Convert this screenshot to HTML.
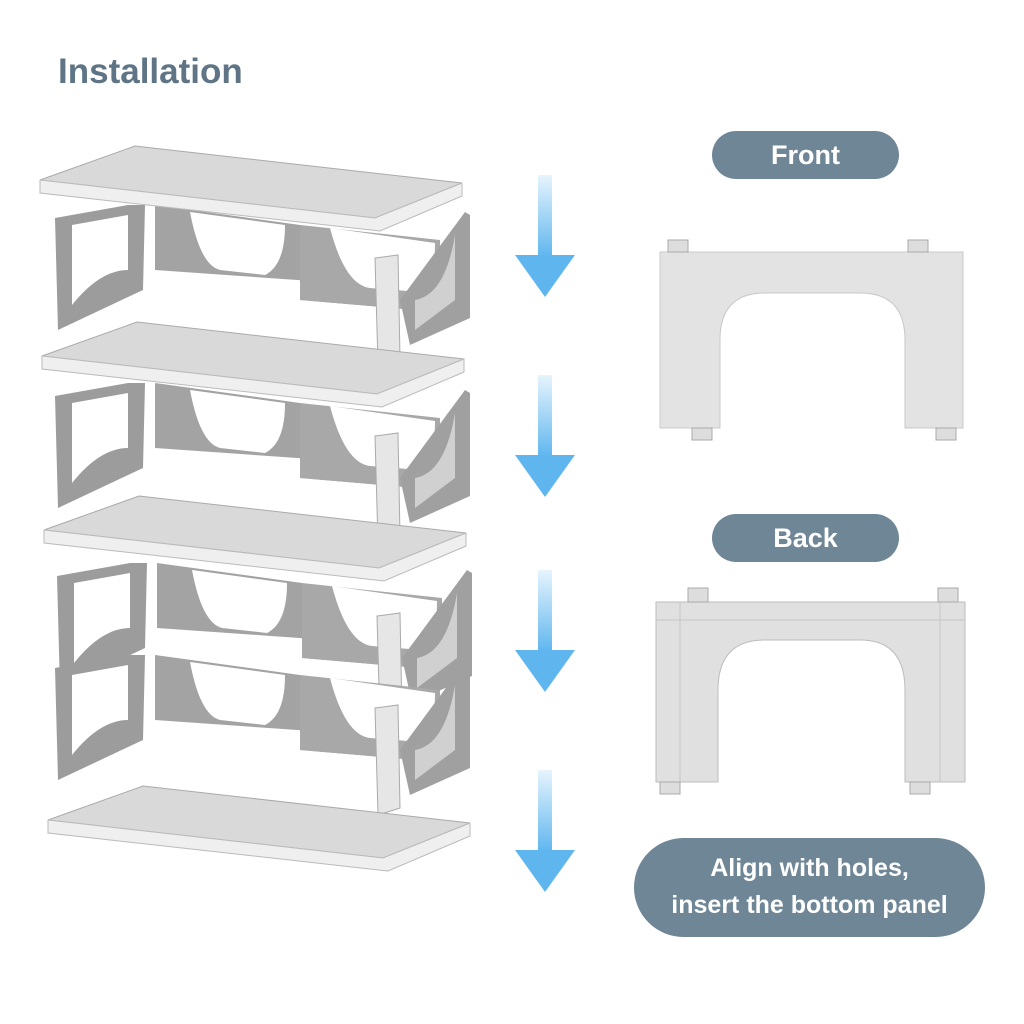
<!DOCTYPE html>
<html><head><meta charset="utf-8"><style>
html,body{margin:0;padding:0;background:#fff;}
body{width:1024px;height:1024px;position:relative;overflow:hidden;font-family:"Liberation Sans",sans-serif;}
.t{position:absolute;left:58px;top:52px;font-size:35px;font-weight:bold;color:#5f7586;}
.pill{position:absolute;background:#6f8696;color:#fff;font-weight:bold;text-align:center;border-radius:26px;}
</style></head><body>
<div class="t">Installation</div>
<div class="pill" style="left:712px;top:131px;width:187px;height:48px;line-height:48px;font-size:27px;">Front</div>
<div class="pill" style="left:712px;top:514px;width:187px;height:48px;line-height:48px;font-size:27px;">Back</div>
<div class="pill" style="left:634px;top:838px;width:351px;height:99px;border-radius:50px;font-size:25px;line-height:37px;padding-top:12px;box-sizing:border-box;">Align with holes,<br>insert the bottom panel</div>
<svg width="1024" height="1024" style="position:absolute;left:0;top:0">
<defs>
<linearGradient id="ar" x1="0" y1="0" x2="0" y2="1"><stop offset="0" stop-color="#e6f4fd"/><stop offset="1" stop-color="#5fb6ef"/></linearGradient>
<g id="arrow"><rect x="538" y="0" width="14" height="82" fill="url(#ar)"/><polygon points="515,80 575,80 545,122" fill="#5fb6ef"/></g>
<g id="shelf">
<polygon points="40,180 135,146 462,183 375,218 40,180" fill="#d9d9d9" stroke="#aaa" stroke-width="1"/>
<polygon points="40,180 375,218 462,183 462,196 380,231 40,193" fill="#efefef" stroke="#bbb" stroke-width="1"/>
</g>
<g id="frame">
<polygon points="55,218 128,205 145,205 143,290 58,330" fill="#9c9c9c"/>
<path d="M72,225 L128,215 L128,270 Q100,270 72,305 Z" fill="#fff"/>
<polygon points="155,205 300,225 300,300 440,312 440,290 155,270" fill="#a3a3a3"/>
<path d="M190,212 Q200,265 220,270 L265,275 Q285,265 285,225 Z" fill="#fff"/>
<polygon points="300,225 440,240 440,312 300,300" fill="#a8a8a8"/>
<path d="M330,228 Q345,285 370,288 L420,292 Q435,280 435,243 Z" fill="#fff"/>
<polygon points="400,300 465,212 470,215 470,318 410,345" fill="#a0a0a0"/>
<path d="M415,300 Q445,295 455,235 L455,300 L415,330 Z" fill="#d0d0d0"/>
<polygon points="375,258 398,255 400,358 378,365" fill="#e6e6e6" stroke="#aaa"/>
</g>
</defs>
<use href="#arrow" transform="translate(0,175)"/>
<use href="#arrow" transform="translate(0,375)"/>
<use href="#arrow" transform="translate(0,570)"/>
<use href="#arrow" transform="translate(0,770)"/>
<use href="#frame"/>
<use href="#frame" transform="translate(0,178)"/>
<use href="#frame" transform="translate(2,358)"/>
<use href="#frame" transform="translate(0,450)"/>
<use href="#shelf"/>
<use href="#shelf" transform="translate(2,176)"/>
<use href="#shelf" transform="translate(4,350)"/>
<use href="#shelf" transform="translate(8,640)"/>
<!-- front panel -->
<path d="M660,252 L963,252 L963,428 L905,428 L905,340 Q905,293 860,293 L765,293 Q720,293 720,340 L720,428 L660,428 Z" fill="#e3e3e3" stroke="#c8c8c8"/>
<rect x="668" y="240" width="20" height="12" fill="#ddd" stroke="#aaa"/>
<rect x="908" y="240" width="20" height="12" fill="#ddd" stroke="#aaa"/>
<rect x="692" y="428" width="20" height="12" fill="#ddd" stroke="#aaa"/>
<rect x="936" y="428" width="20" height="12" fill="#ddd" stroke="#aaa"/>
<!-- back panel -->
<path d="M656,602 L965,602 L965,782 L905,782 L905,690 Q905,640 860,640 L765,640 Q718,640 718,690 L718,782 L656,782 Z" fill="#e0e0e0" stroke="#bdbdbd"/>
<line x1="656" y1="620" x2="965" y2="620" stroke="#c6c6c6"/>
<line x1="680" y1="602" x2="680" y2="782" stroke="#c6c6c6"/>
<line x1="940" y1="602" x2="940" y2="782" stroke="#c6c6c6"/>
<rect x="688" y="588" width="20" height="14" fill="#ddd" stroke="#aaa"/>
<rect x="938" y="588" width="20" height="14" fill="#ddd" stroke="#aaa"/>
<rect x="660" y="782" width="20" height="12" fill="#ddd" stroke="#aaa"/>
<rect x="910" y="782" width="20" height="12" fill="#ddd" stroke="#aaa"/>
</svg>
</body></html>
